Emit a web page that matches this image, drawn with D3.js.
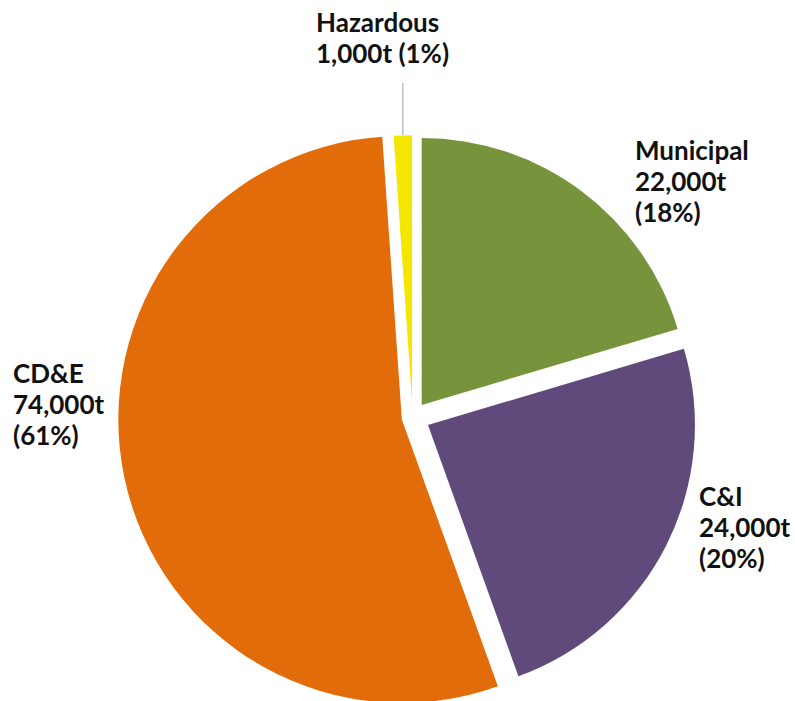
<!DOCTYPE html>
<html>
<head>
<meta charset="utf-8">
<script src="https://cdn.jsdelivr.net/npm/d3@7"></script>
<style>
	body { margin: 0; background: #ffffff; }
	text { font-family: Lato, 'Open Sans', sans-serif; font-weight: 700; }
</style>
</head>
<body>
<script>
// data, clockwise from 12 o'clock
	var categories = ['Municipal', 'C&I', 'CD&E', 'Hazardous'],
		tonnes = [22000, 24000, 74000, 1000],
		percentLabels = ['18%', '20%', '61%', '1%'],
		// slice sizes as drawn in the picture (share of the circle)
		drawnShare = [20.4, 24.1, 54.4, 1.1];

// parameters for layout
	var width = 795,
		height = 701,
		cx = 412.6,
		cy = 417.2,
		colors = ['#77933c', '#604a7b', '#e36c0a', '#f5e600'],
		radii = [267, 267, 283.5, 267],
		explode = [15.2, 17.2, 11, 15],
		fontSize = 26,
		lineHeight = 31;

// where each label block starts (left x, first baseline)
	var labelAnchor = [[635, 160], [699, 506], [13, 383], [316, 32]],
		labelLines = [3, 3, 3, 2];

// svg
	var svg = d3.select('body').append('svg')
		.attr('width', width)
		.attr('height', height)
		.style('display', 'block');

	var pie = d3.pie()
		.sort(null)
		.value(function(d) { return d; });

	var arcs = pie(drawnShare);

	var arc = d3.arc()
		.innerRadius(0)
		.outerRadius(function(d, i) { return radii[d.index]; });

	var g = svg.append('g')
		.attr('transform', 'translate(' + cx + ',' + cy + ')');

// the slices, each pushed out along its bisector
	g.selectAll('path')
		.data(arcs)
	  .enter().append('path')
		.attr('d', arc)
		.attr('fill', function(d) { return colors[d.index]; })
		.attr('transform', function(d) {
			var mid = (d.startAngle + d.endAngle) / 2,
				e = explode[d.index];
			return 'translate(' + (e * Math.sin(mid)) + ',' + (-e * Math.cos(mid)) + ')';
		});

// leader line for the small slice
	var h = arcs[3],
		hMid = (h.startAngle + h.endAngle) / 2,
		hx = explode[3] * Math.sin(hMid) + radii[3] * Math.sin(hMid),
		hy = -explode[3] * Math.cos(hMid) - radii[3] * Math.cos(hMid);
	g.append('line')
		.attr('x1', hx)
		.attr('y1', hy)
		.attr('x2', hx)
		.attr('y2', hy - 52)
		.attr('stroke', '#b3b3b3')
		.attr('stroke-width', 1.3);

// labels
	var fmt = d3.format(',');
	categories.forEach(function(c, i) {
		var lines;
		if (labelLines[i] == 3)
			lines = [c, fmt(tonnes[i]) + 't', '(' + percentLabels[i] + ')'];
		else
			lines = [c, fmt(tonnes[i]) + 't (' + percentLabels[i] + ')'];
		var t = svg.append('text')
			.attr('x', labelAnchor[i][0])
			.attr('y', labelAnchor[i][1])
			.attr('font-size', fontSize)
			.attr('fill', '#111111');
		t.selectAll('tspan')
			.data(lines)
		  .enter().append('tspan')
			.attr('x', labelAnchor[i][0])
			.attr('dy', function(d, j) { return j == 0 ? 0 : lineHeight; })
			.text(function(d) { return d; });
	});
</script>
</body>
</html>
